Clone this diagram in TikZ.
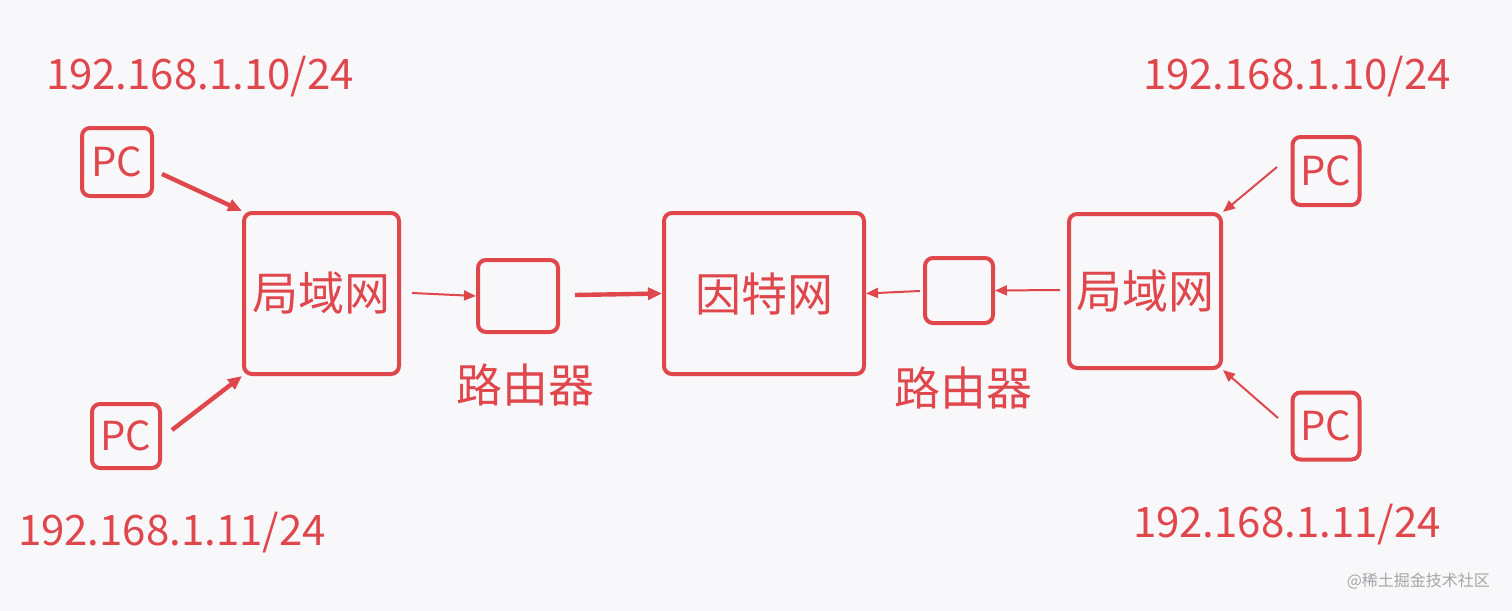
\documentclass[tikz,border=0pt]{standalone}
\usepackage{fontspec}
\setmainfont{Noto Sans CJK SC}
\usetikzlibrary{arrows.meta}
\definecolor{rd}{HTML}{E0474C}
\definecolor{bg}{HTML}{F8F8FA}
\begin{document}
\begin{tikzpicture}[x=0.5pt,y=-0.5pt,
  bx/.style={draw=rd,line width=2pt,rounded corners=4pt,inner sep=0pt},
  lbl/.style={text=rd,font=\fontsize{21}{24}\selectfont,inner sep=0pt},
  big/.style={text=rd,font=\fontsize{20}{24}\selectfont},
  cjk/.style={text=rd,font=\fontsize{23}{26}\selectfont},
  thin/.style={draw=rd,line width=1pt,-{Triangle[length=6pt,width=5pt]}},
  thick/.style={draw=rd,line width=2.2pt,-{Triangle[length=7pt,width=6pt]}}]
\fill[bg] (0,0) rectangle (1512,611);
\node[bx,minimum width=35pt,minimum height=34pt,big] (pc1) at (117,162) {PC};
\node[bx,minimum width=34pt,minimum height=32pt,big] (pc2) at (126,436) {PC};
\node[bx,minimum width=33.5pt,minimum height=34pt,big] (pc3) at (1326,171) {PC};
\node[bx,minimum width=33.5pt,minimum height=33.5pt,big] (pc4) at (1326,426) {PC};
\node[bx,minimum width=77.5pt,minimum height=80.5pt,cjk] (lan1) at (321.5,293.5) {局域网};
\node[bx,minimum width=40pt,minimum height=36pt] (r1) at (518,296) {};
\node[bx,minimum width=100pt,minimum height=80.5pt,cjk] (net) at (764,293.5) {因特网};
\node[bx,minimum width=34pt,minimum height=32.5pt] (r2) at (959,290.5) {};
\node[bx,minimum width=76pt,minimum height=77pt,cjk] (lan2) at (1145,291) {局域网};
\node[cjk,inner sep=0pt] (rl1) at (525,385) {路由器};
\node[cjk,inner sep=0pt] (rl2) at (963,388) {路由器};
\node[lbl] (ip1) at (200,77) {192.168.1.10/24};
\node[lbl] (ip2) at (172,533) {192.168.1.11/24};
\node[lbl] (ip3) at (1297,77) {192.168.1.10/24};
\node[lbl] (ip4) at (1287,525) {192.168.1.11/24};
\node[text=gray!70,font=\fontsize{8}{9}\selectfont,anchor=east] (wm) at (1497,581) {@稀土掘金技术社区};
\coordinate (a1) at (162,174);
\coordinate (b1) at (172,430);
\coordinate (c1) at (412,293);
\coordinate (d1) at (575,295);
\coordinate (e1) at (920,291);
\coordinate (f1) at (1060,290);
\coordinate (g1) at (1277,167);
\coordinate (h1) at (1278,418);
\draw[thick] (a1) -- (lan1.north west);
\draw[thick] (b1) -- (lan1.south west);
\draw[thin] (c1) -- (r1.west);
\draw[thick] (d1) -- (net.west);
\draw[thin] (e1) -- (net.east);
\draw[thin] (f1) -- (r2.east);
\draw[thin] (g1) -- (lan2.north east);
\draw[thin] (h1) -- (lan2.south east);
\end{tikzpicture}
\end{document}
